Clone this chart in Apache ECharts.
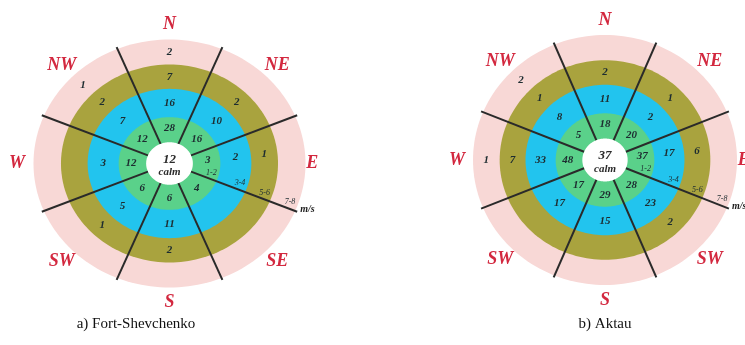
<!DOCTYPE html>
<html>
<head>
<meta charset="utf-8">
<script src="https://cdn.jsdelivr.net/npm/echarts/dist/echarts.min.js"></script>
<style>
  html, body { margin: 0; padding: 0; background: #ffffff; }
  #chart { width: 745px; height: 345px; }
</style>
</head>
<body>
<div id="chart"></div>
<script>
// Sector order, clockwise from north
const directions = ['N', 'NE', 'E', 'SE', 'S', 'SW', 'W', 'NW'];
const aktauDirectionLabels = ['N', 'NE', 'E', 'SW', 'S', 'SW', 'W', 'NW'];
const speedBands = ['1-2', '3-4', '5-6', '7-8'];
const speedUnit = 'm/s';
const calmText = 'calm';
const captions = ['a) Fort-Shevchenko', 'b) Aktau'];

// Fort-Shevchenko: frequency per direction for each speed band
const fortCalm = 12;
const fort12 = [28, 16, 3, 4, 6, 6, 12, 12];
const fort34 = [16, 10, 2, null, 11, 5, 3, 7];
const fort56 = [7, 2, 1, null, 2, 1, null, 2];
const fort78 = [2, null, null, null, null, null, null, 1];

// Aktau: frequency per direction for each speed band
const aktauCalm = 37;
const aktau12 = [18, 20, 37, 28, 29, 17, 48, 5];
const aktau34 = [11, 2, 17, 23, 15, 17, 33, 8];
const aktau56 = [2, 1, 6, 2, null, null, 7, 1];
const aktau78 = [null, null, null, null, null, null, 1, 2];

// Ring geometry in axis units: calm disc, then one ring per speed band
const ringEdges = [0.85, 1.85, 2.98, 3.95, 4.95];
const ringColors = ['#ffffff', '#5ad18a', '#22c4ee', '#a9a33e', '#f8d8d6'];
const OUTER = 4.95;
const LINE_END = 5.03;
const LABEL_R = 5.55;
const LABEL_R_EAST = 5.2;

const valueFont = 'italic bold 11px "Liberation Serif", "DejaVu Serif", serif';
const dirFont = 'italic bold 18px "Liberation Serif", "DejaVu Serif", serif';
const textColor = '#1d2c30';
const dirColor = '#d3283f';

function polar(r, deg) {
  const a = deg * Math.PI / 180;
  return [r * Math.cos(a), r * Math.sin(a)];
}
function sectorAngle(i) { return 90 - 45 * i; }

function roseSeries(gi, calm, bands, dirLabels) {
  const base = { type: 'custom', xAxisIndex: gi, yAxisIndex: gi, animation: false, silent: true };
  const series = [];

  // Filled rings, painted outermost first
  const ringData = ringEdges.map((r, i) => [r, i]).reverse();
  series.push(Object.assign({}, base, {
    z: 1,
    data: ringData,
    renderItem: function (params, api) {
      const r = api.value(0);
      const pts = [];
      for (let k = 0; k < 180; k++) {
        pts.push(api.coord(polar(r, k * 2)));
      }
      return { type: 'polygon', shape: { points: pts }, style: { fill: ringColors[api.value(1)] } };
    }
  }));

  // Sector dividing lines
  const lineData = directions.map((d, i) => [sectorAngle(i) - 22.5]);
  series.push(Object.assign({}, base, {
    z: 2,
    data: lineData,
    renderItem: function (params, api) {
      const a = api.value(0);
      const p1 = api.coord(polar(ringEdges[0], a));
      const p2 = api.coord(polar(LINE_END, a));
      return { type: 'line', shape: { x1: p1[0], y1: p1[1], x2: p2[0], y2: p2[1] },
               style: { stroke: '#2a2a2a', lineWidth: 2 } };
    }
  }));

  // Frequency labels inside each ring sector
  const valueData = [];
  bands.forEach((vals, b) => {
    const rMid = (ringEdges[b] + ringEdges[b + 1]) / 2 + (b === 0 ? 0.05 : 0);
    vals.forEach((v, d) => {
      if (v == null) return;
      const ang = sectorAngle(d) + (d === 2 ? 6 : 0);
      const p = polar(rMid, ang);
      valueData.push([p[0], p[1], v]);
    });
  });
  series.push(Object.assign({}, base, {
    z: 3,
    data: valueData,
    renderItem: function (params, api) {
      const p = api.coord([api.value(0), api.value(1)]);
      return { type: 'text', x: p[0], y: p[1],
               style: { text: String(api.value(2)), font: valueFont, fill: textColor,
                        align: 'center', verticalAlign: 'middle' } };
    }
  }));

  // Direction names around the rose
  const dirData = dirLabels.map((name, i) => {
    const p = polar(i === 2 ? LABEL_R_EAST : LABEL_R, sectorAngle(i));
    return [p[0], p[1], name];
  });
  series.push(Object.assign({}, base, {
    z: 3,
    data: dirData,
    dimensions: ['x', 'y', { name: 'label', type: 'ordinal' }],
    renderItem: function (params, api) {
      const item = dirData[params.dataIndex];
      const p = api.coord([item[0], item[1]]);
      return { type: 'text', x: p[0], y: p[1],
               style: { text: item[2], font: dirFont, fill: dirColor,
                        align: 'center', verticalAlign: 'middle' } };
    }
  }));

  // Calm count in the centre disc
  series.push(Object.assign({}, base, {
    z: 3,
    data: [[0, 0, calm]],
    renderItem: function (params, api) {
      const p = api.coord([0, 0]);
      return { type: 'group', children: [
        { type: 'text', x: p[0], y: p[1] - 4,
          style: { text: String(api.value(2)), font: 'italic bold 13px "Liberation Serif", serif',
                   fill: '#2b2b2b', align: 'center', verticalAlign: 'middle' } },
        { type: 'text', x: p[0], y: p[1] + 9,
          style: { text: calmText, font: 'italic bold 11px "Liberation Serif", serif',
                   fill: '#2b2b2b', align: 'center', verticalAlign: 'middle' } }
      ] };
    }
  }));

  // Speed band scale along the E/SE divider
  const scaleAngle = sectorAngle(2) - 22.5;
  const scaleData = speedBands.map((s, b) => {
    const p = polar(ringEdges[b + 1] - 0.28, scaleAngle);
    return [p[0], p[1], s];
  });
  series.push(Object.assign({}, base, {
    z: 4,
    data: scaleData,
    renderItem: function (params, api) {
      const item = scaleData[params.dataIndex];
      const p = api.coord([item[0], item[1]]);
      const children = [
        { type: 'text', x: p[0] + 2, y: p[1] - 6,
          style: { text: item[2], font: 'italic 8px "Liberation Serif", serif', fill: '#1d2c30',
                   align: 'center', verticalAlign: 'middle' } }
      ];
      if (params.dataIndex === speedBands.length - 1) {
        const e = api.coord(polar(LINE_END, scaleAngle));
        children.push({ type: 'text', x: e[0] + 3, y: e[1] - 2,
          style: { text: speedUnit, font: 'italic bold 10px "Liberation Serif", serif', fill: '#1d1d1d',
                   align: 'left', verticalAlign: 'middle' } });
      }
      return { type: 'group', children: children };
    }
  }));

  return series;
}

const chart = echarts.init(document.getElementById('chart'), null, { renderer: 'canvas' });

const axisCommon = { type: 'value', min: -OUTER, max: OUTER, show: false };

chart.setOption({
  backgroundColor: '#ffffff',
  animation: false,
  grid: [
    { left: 33.5, top: 39.5, width: 272, height: 248 },
    { left: 473, top: 35, width: 264, height: 250 }
  ],
  xAxis: [Object.assign({ gridIndex: 0 }, axisCommon), Object.assign({ gridIndex: 1 }, axisCommon)],
  yAxis: [Object.assign({ gridIndex: 0 }, axisCommon), Object.assign({ gridIndex: 1 }, axisCommon)],
  title: [
    { text: captions[0], left: 131, top: 312, textAlign: 'center',
      textStyle: { fontFamily: '"Liberation Serif", serif', fontWeight: 'normal', fontSize: 15, color: '#111' } },
    { text: captions[1], left: 600, top: 312, textAlign: 'center',
      textStyle: { fontFamily: '"Liberation Serif", serif', fontWeight: 'normal', fontSize: 15, color: '#111' } }
  ],
  series: [].concat(
    roseSeries(0, fortCalm, [fort12, fort34, fort56, fort78], directions),
    roseSeries(1, aktauCalm, [aktau12, aktau34, aktau56, aktau78], aktauDirectionLabels)
  )
});
</script>
</body>
</html>
